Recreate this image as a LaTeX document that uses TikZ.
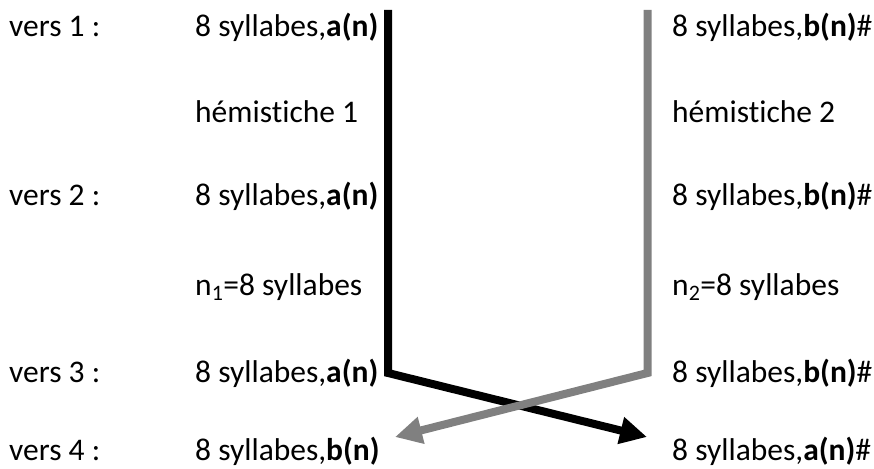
\documentclass[tikz,border=0pt]{standalone}
\usepackage{fontspec}
\setmainfont[Ligatures=NoCommon]{Carlito}
\usetikzlibrary{arrows.meta}

\begin{document}
\begin{tikzpicture}[x=1pt,y=-1pt,
		txt/.style={anchor=base west,inner sep=0pt,font=\fontsize{31.5}{37}\selectfont},
		rime/.style={line width=8pt,line join=miter,-{Triangle[length=27pt,width=26pt]}}]
				\useasboundingbox (0,0) rectangle (874,468);
				
				\foreach \i/\y in {1/37,2/205,3/382,4/460}{
					\node[txt] (vers\i) at (9,\y) {vers \i{} :};}
				
				\foreach \i/\y in {1/37,2/205,3/382}{
					\node[txt] (g\i) at (195,\y) {8 syllabes,\textbf{a(n)}};
					\node[txt] (d\i) at (672,\y) {8 syllabes,\textbf{b(n)}\#};}
				\node[txt] (g4) at (195,460) {8 syllabes,\textbf{b(n)}};
				\node[txt] (d4) at (672,460) {8 syllabes,\textbf{a(n)}\#};
				
				\node[txt] (hem1) at (195,122) {hémistiche 1};
				\node[txt] (hem2) at (672,122) {hémistiche 2};
				\node[txt] (n1) at (195,295) {n\textsubscript{1}=8 syllabes};
				\node[txt] (n2) at (672,295) {n\textsubscript{2}=8 syllabes};
				
				\coordinate (aTop) at (388,10);
				\coordinate (aBend) at (388,373);
				\coordinate (aEnd) at (647,437);
				\coordinate (bTop) at (647.5,10);
				\coordinate (bBend) at (647.5,373);
				\coordinate (bEnd) at (395,437);
				
				\draw[rime,black] (aTop) -- (aBend) -- (aEnd);
				\draw[rime,gray] (bTop) -- (bBend) -- (bEnd);
			\end{tikzpicture}
\end{document}
